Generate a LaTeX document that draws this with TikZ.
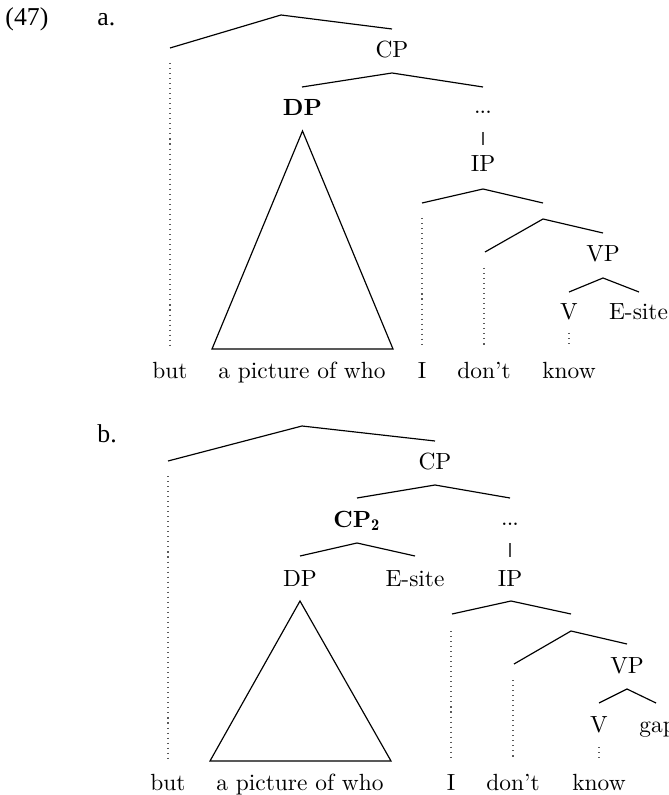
\documentclass[tikz,border=0pt]{standalone}
\usepackage{fontspec}
\newfontfamily\timesfont{Liberation Serif}
\begin{document}
\begin{tikzpicture}[x=0.4274pt,y=-0.4274pt,
  lbl/.style={anchor=base,inner sep=0pt,font=\fontsize{10}{12}\selectfont},
  numlbl/.style={anchor=base west,inner sep=0pt,font=\timesfont\fontsize{11}{13}\selectfont},
  branch/.style={line width=0.5pt},
  dots/.style={line width=0.5pt,dash pattern=on 0.45pt off 1.7pt,black!65},
  tri/.style={line width=0.5pt},
  ell/.style={anchor=base,inner sep=0pt,font=\fontsize{6.5}{7}\selectfont},
  bar/.style={line width=0.5pt,black!70}]
\useasboundingbox (0,0) rectangle (668,795);
\clip (0,0) rectangle (668,795);

% ---------------- (47) a. ----------------
\node[numlbl] (ex) at (5,26) {(47)};
\node[numlbl] (la) at (97,26) {a.};

% labels
\node[lbl] (aCP) at (392,58) {CP};
\node[lbl] (aDP) at (302.5,116) {\textbf{DP}};
\node[ell] (aEll) at (483,114) {\textbf{...}};
\node[lbl] (aIP) at (483,172) {IP};
\node[lbl] (aVP) at (603,262) {VP};
\node[lbl] (aV) at (569,320) {V};
\node[lbl] (aE) at (638.5,320) {E-site};
\node[lbl] (aBut) at (170,378) {but};
\node[lbl] (aPic) at (302,378) {a picture of who};
\node[lbl] (aI) at (422,378) {I};
\node[lbl] (aDont) at (484,378) {don't};
\node[lbl] (aKnow) at (569,378) {know};

% branch coordinates
\coordinate (aT) at (281,15);   \coordinate (aTl) at (170,48);  \coordinate (aTr) at (392,29);
\coordinate (aC) at (392,73);   \coordinate (aCl) at (302,87);  \coordinate (aCr) at (483,87);
\coordinate (aI0) at (483,189); \coordinate (aIl) at (422,203); \coordinate (aIr) at (543,203);
\coordinate (aJ) at (543,219);  \coordinate (aJl) at (485,252); \coordinate (aJr) at (603,233);
\coordinate (aK) at (603,278);  \coordinate (aKl) at (569,292); \coordinate (aKr) at (639,292);
\coordinate (aTa) at (302.5,131); \coordinate (aTb) at (212,349); \coordinate (aTc) at (393,349);
\coordinate (aBar1) at (483,132); \coordinate (aBar2) at (483,145);
\coordinate (aD1) at (170,63);  \coordinate (aD1e) at (170,348);
\coordinate (aD2) at (422,218); \coordinate (aD2e) at (422,348);
\coordinate (aD3) at (484,268); \coordinate (aD3e) at (484,348);
\coordinate (aD4) at (569,333); \coordinate (aD4e) at (569,348);

\draw[branch] (aTl) -- (aT) -- (aTr);
\draw[branch] (aCl) -- (aC) -- (aCr);
\draw[branch] (aIl) -- (aI0) -- (aIr);
\draw[branch] (aJl) -- (aJ) -- (aJr);
\draw[branch] (aKl) -- (aK) -- (aKr);
\draw[tri] (aTa) -- (aTb) -- (aTc) -- cycle;
\draw[bar] (aBar1) -- (aBar2);
\draw[dots] (aD1) -- (aD1e);
\draw[dots] (aD2) -- (aD2e);
\draw[dots] (aD3) -- (aD3e);
\draw[dots] (aD4) -- (aD4e);

% ---------------- b. ----------------
\node[numlbl] (lb) at (97,442) {b.};

\node[lbl] (bCP) at (435,469) {CP};
\node[lbl] (bCP2) at (357,527) {\textbf{CP$_{\mathbf{2}}$}};
\node[ell] (bEll) at (510,525) {\textbf{...}};
\node[lbl] (bDP) at (300,586) {DP};
\node[lbl] (bE) at (415,586) {E-site};
\node[lbl] (bIP) at (510,586) {IP};
\node[lbl] (bVP) at (627,673) {VP};
\node[lbl] (bV) at (599,732) {V};
\node[lbl,anchor=base west] (bGap) at (639,732) {gap};
\node[lbl] (bBut) at (168,790) {but};
\node[lbl] (bPic) at (300,790) {a picture of who};
\node[lbl] (bI) at (451,790) {I};
\node[lbl] (bDont) at (513,790) {don't};
\node[lbl] (bKnow) at (599,790) {know};

\coordinate (bT) at (302,426);  \coordinate (bTl) at (168,461); \coordinate (bTr) at (435,441);
\coordinate (bC) at (435,485);  \coordinate (bCl) at (357,498); \coordinate (bCr) at (510,498);
\coordinate (bC2) at (357,543); \coordinate (bC2l) at (300,556); \coordinate (bC2r) at (415,556);
\coordinate (bI0) at (511,601); \coordinate (bIl) at (452,614); \coordinate (bIr) at (571,614);
\coordinate (bJ) at (571,631);  \coordinate (bJl) at (514,664); \coordinate (bJr) at (627,644);
\coordinate (bK) at (627,689);  \coordinate (bKl) at (599,703); \coordinate (bKr) at (656,703);
\coordinate (bTa) at (300,601); \coordinate (bTb) at (210,761); \coordinate (bTc) at (391,761);
\coordinate (bBar1) at (510,543); \coordinate (bBar2) at (510,557);
\coordinate (bD1) at (168,476); \coordinate (bD1e) at (168,760);
\coordinate (bD2) at (451,631); \coordinate (bD2e) at (451,760);
\coordinate (bD3) at (513,680); \coordinate (bD3e) at (513,760);
\coordinate (bD4) at (599,747); \coordinate (bD4e) at (599,760);

\draw[branch] (bTl) -- (bT) -- (bTr);
\draw[branch] (bCl) -- (bC) -- (bCr);
\draw[branch] (bC2l) -- (bC2) -- (bC2r);
\draw[branch] (bIl) -- (bI0) -- (bIr);
\draw[branch] (bJl) -- (bJ) -- (bJr);
\draw[branch] (bKl) -- (bK) -- (bKr);
\draw[tri] (bTa) -- (bTb) -- (bTc) -- cycle;
\draw[bar] (bBar1) -- (bBar2);
\draw[dots] (bD1) -- (bD1e);
\draw[dots] (bD2) -- (bD2e);
\draw[dots] (bD3) -- (bD3e);
\draw[dots] (bD4) -- (bD4e);
\end{tikzpicture}
\end{document}
